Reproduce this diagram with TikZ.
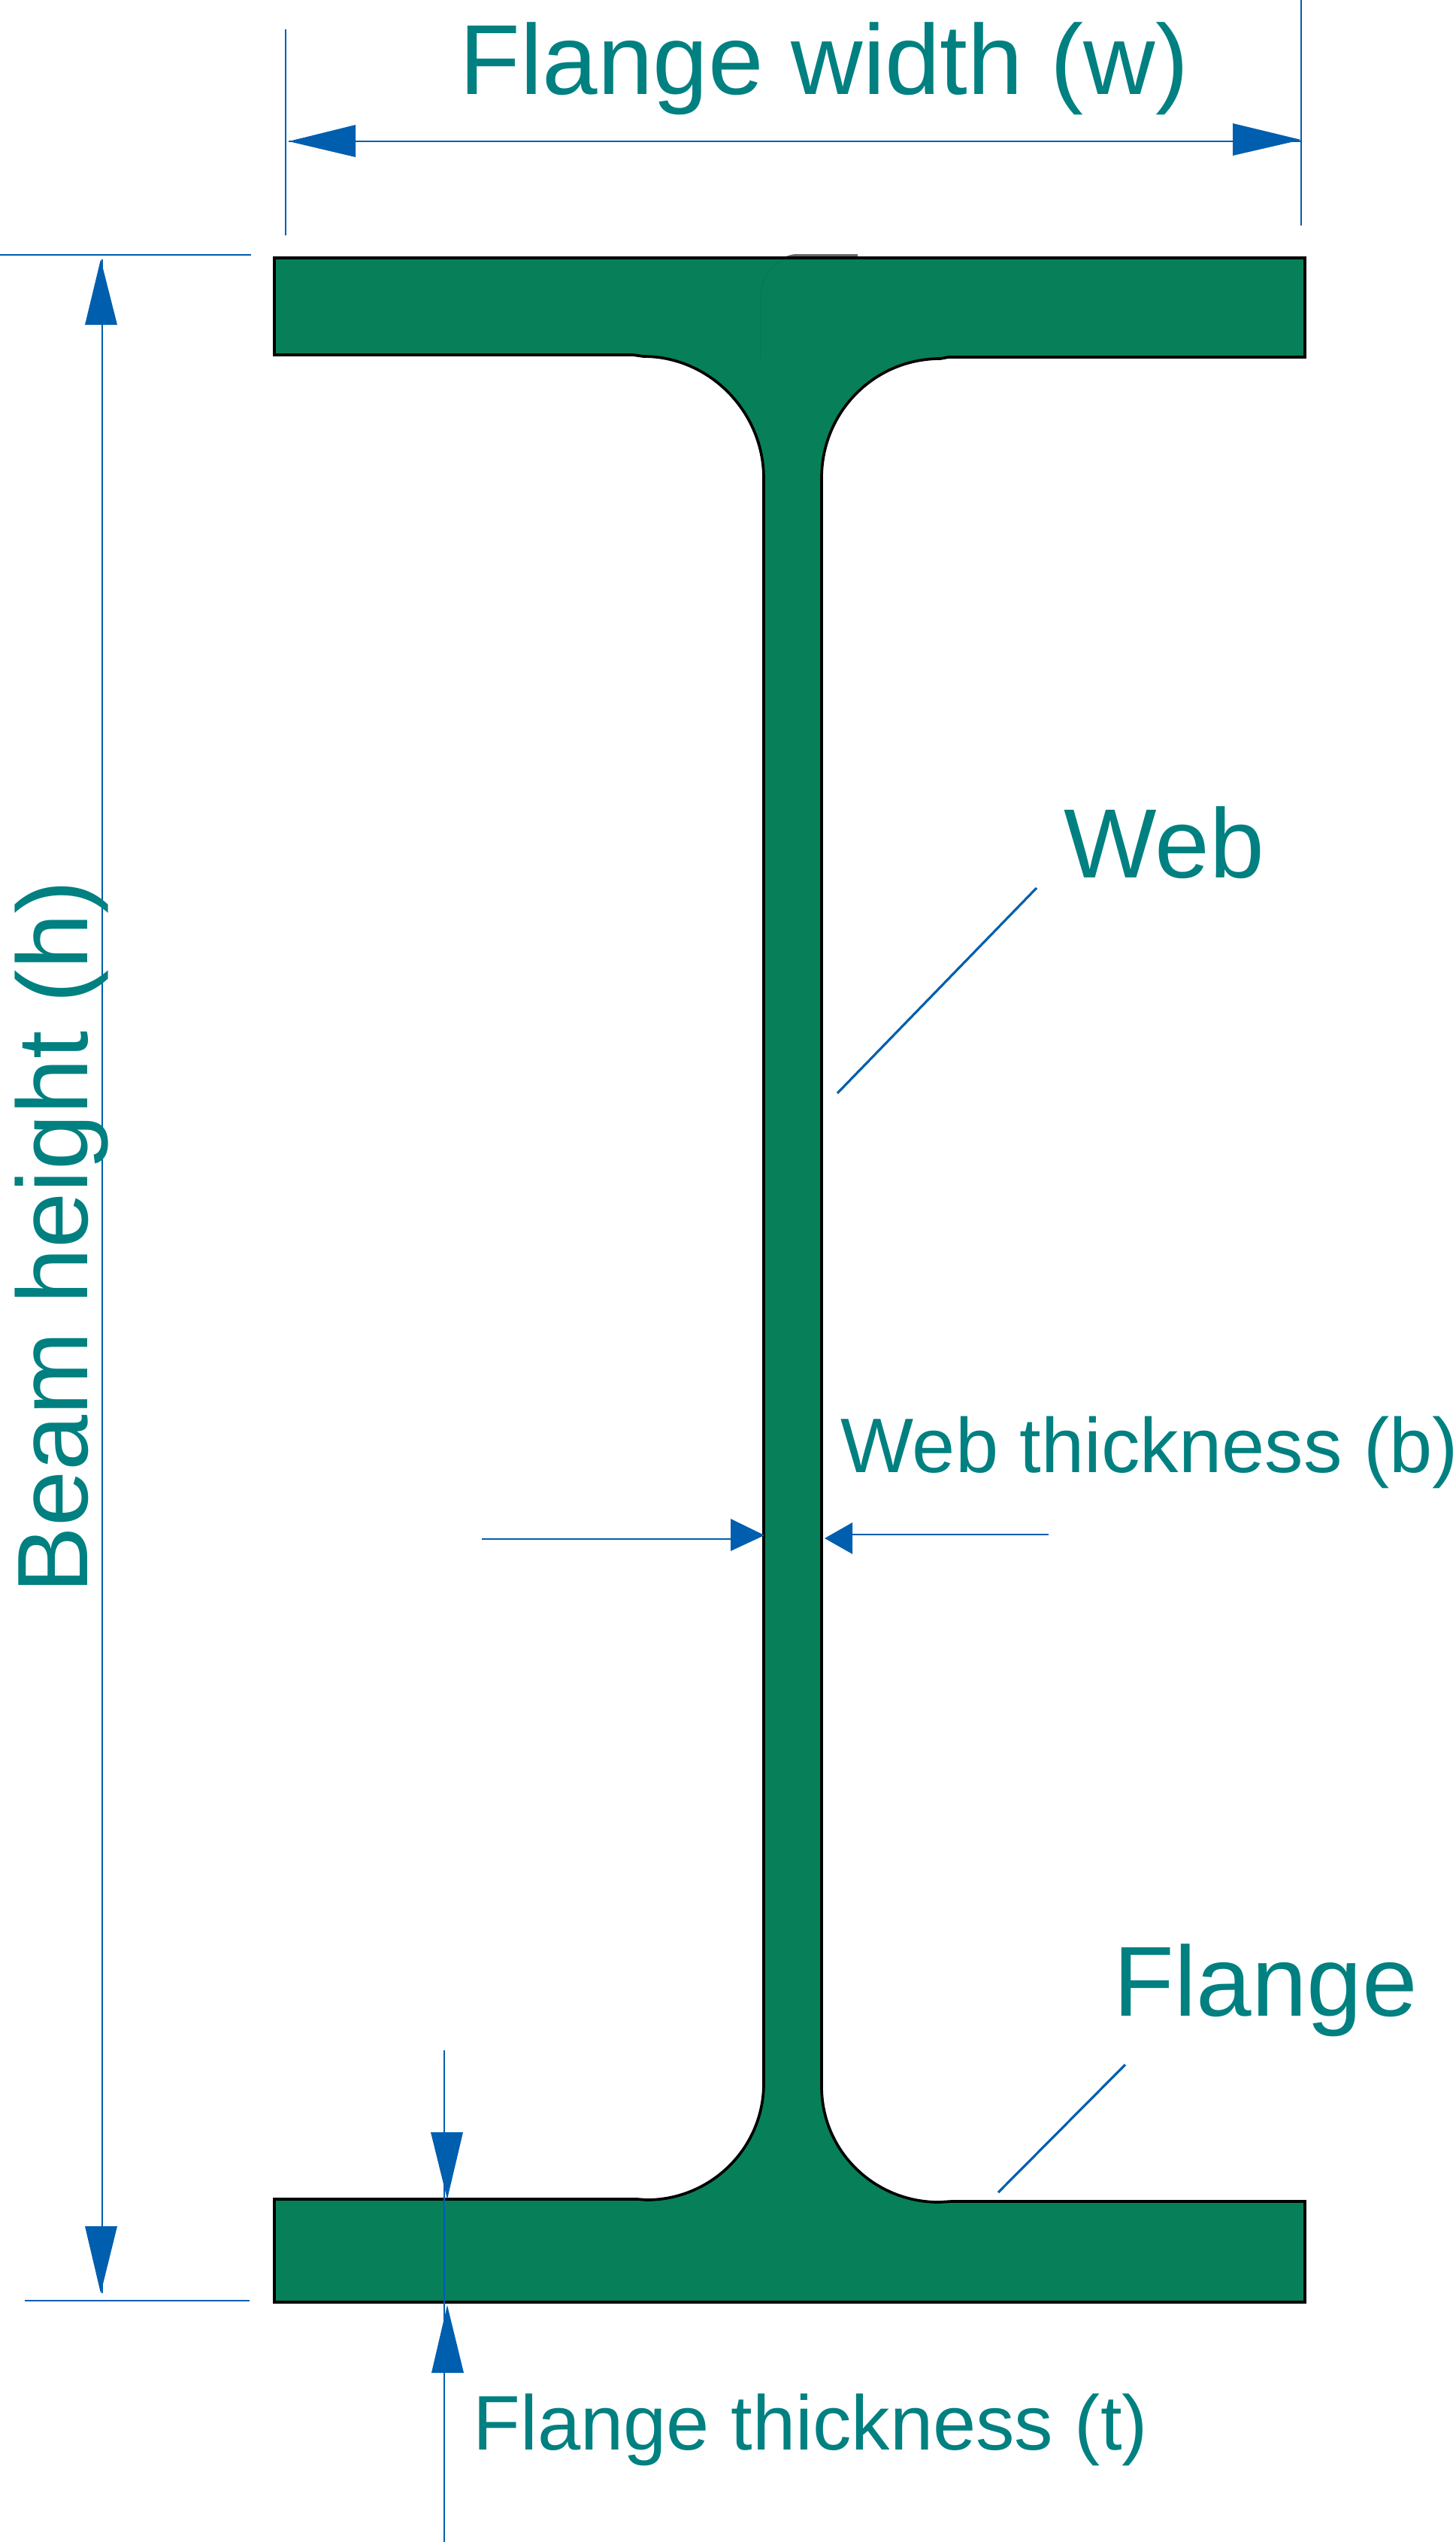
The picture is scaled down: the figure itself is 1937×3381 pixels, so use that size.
\documentclass[tikz,border=0pt]{standalone}
\usepackage{fontspec}
\setmainfont{Liberation Sans}
\definecolor{beamgreen}{HTML}{07805A}
\definecolor{dimblue}{HTML}{005EAE}
\definecolor{labelteal}{HTML}{008080}
\tikzset{
  biglabel/.style={text=labelteal,font=\fontsize{37.6}{37.6}\selectfont,inner sep=0pt,anchor=base west},
  smalllabel/.style={text=labelteal,font=\fontsize{29.25}{29.25}\selectfont,inner sep=0pt,anchor=base west},
  dimline/.style={draw=dimblue,line width=0.45pt},
  leader/.style={draw=dimblue,line width=0.9pt},
  head/.style={fill=dimblue}
}
\begin{document}
\begin{tikzpicture}[x=0.01cm,y=-0.01cm]
  \useasboundingbox (0,0) rectangle (1937,3381);
  \def\beampath{(365,343) -- (1736,343) -- (1736,475) -- (1262,475) -- (1251,477)
    .. controls (1163,477) and (1093,548) .. (1093,636)
    -- (1093,2775) .. controls (1093,2861) and (1163,2929) .. (1249,2929)
    -- (1265,2928) -- (1736,2928) -- (1736,3062) -- (365,3062) -- (365,2925) -- (848,2925) -- (860,2926)
    .. controls (946,2926) and (1016,2857) .. (1016,2771)
    -- (1016,636) .. controls (1016,548) and (944,474) .. (856,474)
    -- (842,472) -- (365,472) -- cycle}
  % sliver above the top flange
  \fill [black!60] (1041,343) .. controls (1050,339) and (1055,338) .. (1060,338) -- (1141,338) -- (1141,343) -- cycle;
  \draw [line width=1.05pt,fill=beamgreen] \beampath;
  \draw [beamgreen!92!black,line width=0.3pt] (1012,477) -- (1012,395) .. controls (1012,370) and (1025,355) .. (1041,346);

  \coordinate (widtha) at (380,39);   \coordinate (widthb) at (380,313);
  \coordinate (widthc) at (1731,0);   \coordinate (widthd) at (1731,300);
  \coordinate (widthe) at (384,188);  \coordinate (widthf) at (1730,188);
  \coordinate (heighta) at (0,339);   \coordinate (heightb) at (334,339);
  \coordinate (heightc) at (33,3060); \coordinate (heightd) at (332,3060);
  \coordinate (heighte) at (136,345); \coordinate (heightf) at (136,3050);
  \coordinate (flangea) at (591,2727); \coordinate (flangeb) at (591,3381);
  \coordinate (weba) at (641,2047);   \coordinate (webb) at (973,2047);
  \coordinate (webc) at (1133,2041);  \coordinate (webd) at (1395,2041);
  \coordinate (webe) at (1114,1454);  \coordinate (webf) at (1379,1181);
  \coordinate (flangec) at (1328,2916); \coordinate (flanged) at (1497,2746);

  \foreach \a/\b in {widtha/widthb,widthc/widthd,widthe/widthf,heighta/heightb,heightc/heightd,
      heighte/heightf,flangea/flangeb,weba/webb,webc/webd}
    \draw [dimline] (\a) -- (\b);
  \draw [leader] (webe) -- (webf);
  \draw [leader] (flangec) -- (flanged);

  \fill [head] (384,188) -- (473,166) -- (473,209) -- cycle;
  \fill [head] (1731,186) -- (1640,164) -- (1640,207) -- cycle;
  \fill [head] (134,345) -- (113,432) -- (156,432) -- cycle;
  \fill [head] (134,3050) -- (113,2961) -- (156,2961) -- cycle;
  \fill [head] (595,2925) -- (573,2836) -- (616,2836) -- cycle;
  \fill [head] (595,3066) -- (574,3156) -- (617,3156) -- cycle;
  \fill [head] (1017,2042) -- (972,2020) -- (972,2063) -- cycle;
  \fill [head] (1097,2046) -- (1134,2025) -- (1134,2067) -- cycle;

  \node [biglabel] (flangewidth) at (611,125) {Flange width (w)};
  \node [biglabel,rotate=90,font=\fontsize{37.9}{37.9}\selectfont] (beamheight) at (116,2120) {Beam height (h)};
  \node [biglabel,font=\fontsize{37.2}{37.2}\selectfont] (web) at (1415,1167) {Web};
  \node [biglabel] (flange) at (1481,2681) {Flange};
  \node [smalllabel] (webthick) at (1118,1958) {Web thickness (b)};
  \node [smalllabel] (flangethick) at (629,3258) {Flange thickness (t)};
\end{tikzpicture}
\end{document}
